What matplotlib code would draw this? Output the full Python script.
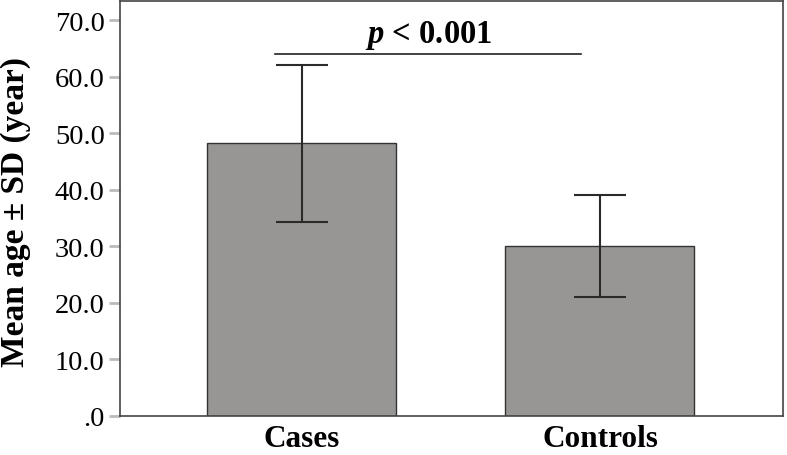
import matplotlib
matplotlib.use("Agg")
import matplotlib.pyplot as plt

categories = ["Cases", "Controls"]
means = [48.2, 30.0]
sds = [13.9, 9.0]
yticks = [0, 10, 20, 30, 40, 50, 60, 70]
ytick_labels = [".0", "10.0", "20.0", "30.0", "40.0", "50.0", "60.0", "70.0"]
sig_y = 64.0
sig_text_y = 66.1

plt.rcParams['font.family'] = ['Liberation Serif', 'DejaVu Serif']
plt.rcParams['mathtext.fontset'] = 'custom'
plt.rcParams['mathtext.it'] = 'Liberation Serif:bold:italic'
plt.rcParams['mathtext.rm'] = 'Liberation Serif:bold'

fig = plt.figure(figsize=(7.87, 4.56), dpi=100)
ax = fig.add_axes([120/787, 1-417/456, (783-120)/787, (417-2)/456])

x = list(range(len(categories)))
ax.bar(x, means, width=0.634, color="#989595", edgecolor="#333333", linewidth=1.0, zorder=2)
ax.errorbar(x, means, yerr=sds, fmt="none", ecolor="#2a2a2a", elinewidth=1.5,
            capsize=19, capthick=1.5, zorder=3)

ax.set_xlim(-0.61, 1.614)
ax.set_ylim(0, 73.4)
ax.set_yticks(yticks)
ax.set_yticklabels(ytick_labels, fontsize=20.5)
ax.set_xticks(x)
ax.set_xticklabels(categories, fontsize=22.5, fontweight="bold")
ax.tick_params(axis="x", length=0, pad=5.5)
ax.tick_params(axis="y", length=8, width=2, color="#bbbbbb", direction="out", pad=3)
for s in ax.spines.values():
    s.set_color("#444444")
    s.set_linewidth(1.2)

fig.text(16/787, 1-212/456, "Mean age ± SD (year)", rotation=90, ha="center", va="center",
         fontsize=24, fontweight="bold")

# significance bar
span = 1.614 + 0.61
x0 = -0.61 + (275-120)/663*span
x1 = -0.61 + (581-120)/663*span
ax.plot([x0, x1], [sig_y, sig_y], color="#222222", linewidth=1.2, zorder=3)
ax.text(-0.61 + (429-120)/663*span, sig_text_y, r"$p$ < 0.001", ha="center", va="baseline",
        fontsize=23.5, fontweight="bold")

fig.savefig("out.png", dpi=100)
